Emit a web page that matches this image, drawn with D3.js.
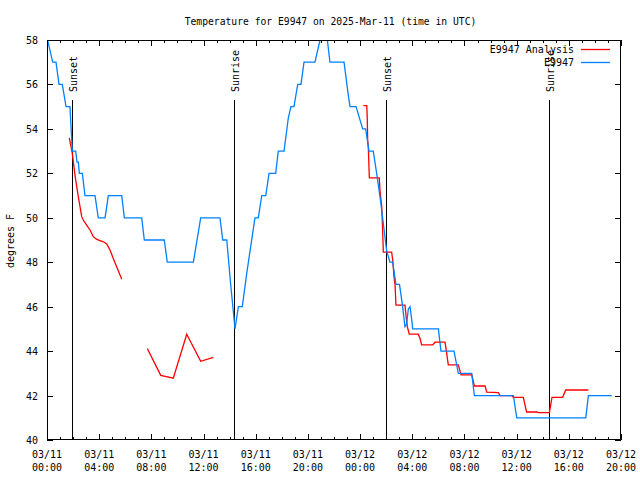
<!DOCTYPE html>
<html><head><meta charset="utf-8">
<script src="https://cdn.jsdelivr.net/npm/d3@7/dist/d3.min.js"></script>
<style>
body{margin:0;background:#fff}
text{font-family:"DejaVu Sans Mono","Liberation Mono",monospace;font-size:10px;fill:#000}
</style>
</head><body>
<svg id="chart" width="640" height="480"></svg>
<script>
// ---------- data ----------
const chartTitle = "Temperature for E9947 on 2025-Mar-11 (time in UTC)";
const yLabel = "degrees F";
const startTime = "2025-03-11T00:00:00Z";
const spanHours = 44;
const yTicks = [40, 42, 44, 46, 48, 50, 52, 54, 56, 58];

// Observed series "E9947" (hours since 03/11 00:00 UTC, degrees F)
const obsHours = [0.04,0.44,0.69,0.92,1.17,1.46,1.76,1.94,2.20,2.30,2.40,2.48,2.71,2.91,3.68,3.93,4.45,4.70,5.73,5.93,7.26,7.46,8.99,9.22,11.22,11.78,13.26,13.47,13.78,14.08,14.33,14.41,14.67,14.97,15.31,15.74,15.94,16.20,16.46,16.77,17.02,17.53,17.73,18.17,18.50,18.70,18.93,19.22,19.47,19.70,20.54,20.93,21.20,21.49,21.69,22.77,23.10,23.23,23.69,24.20,24.43,24.68,25.01,25.27,25.58,26.04,26.29,26.50,26.75,27.02,27.24,27.44,27.56,27.70,27.83,27.96,28.03,30.00,30.20,31.20,31.53,32.56,32.76,35.75,36.01,41.30,41.50,43.29];
const obsValues = [58,57,57,56,56,55,55,53,53,52.5,52.5,52,52,51,51,50,50,51,51,50,50,49,49,48,48,50,50,49,49,47,45.5,45,46,46,47.5,49.2,50,50,51,51,52,52,53,53,54.5,55,55,56,56,57,57,58,58.4,58,57,57,55.5,55,55,54,54,53,53,52,50.7,48.5,48,48,47,47,46.1,45.1,45.2,45.9,46,45.4,45,45,44,44,43,43,42,42,41,41,42,42];

// Analysis series "E9947 Analysis" (null = no data)
const anaHours = [1.71,1.94,2.15,2.28,2.40,2.53,2.66,2.78,3.04,3.30,3.55,3.81,4.32,4.58,4.83,5.08,5.34,5.73,6.70,
  7.69,8.72,9.68,10.71,11.78,12.75,13.50,
  24.25,24.51,24.55,24.58,24.63,24.68,24.71,25.47,25.53,25.66,25.70,25.76,25.78,26.42,26.50,26.60,26.68,26.75,27.44,27.52,27.62,27.77,28.46,28.59,28.72,29.57,29.74,30.51,30.59,30.76,31.53,31.74,32.56,32.76,33.58,33.71,34.60,34.73,35.62,35.75,36.51,36.76,37.59,37.66,38.51,38.71,39.53,39.76,41.50];
const anaValues = [53.6,52.9,51.9,51.4,50.95,50.5,50.05,49.9,49.67,49.45,49.15,49.03,48.92,48.82,48.55,48.17,47.8,47.23,null,
  44.12,42.91,42.78,44.76,43.54,43.72,null,
  55.05,55.05,54.47,53.5,53.2,52.3,51.8,51.8,51.2,50.5,49.9,48.85,48.45,48.45,48.1,47.35,46.97,46.07,46.07,45.6,45.1,44.76,44.76,44.58,44.28,44.28,44.4,44.4,44.1,43.38,43.38,42.93,42.93,42.43,42.43,42.15,42.13,42.0,42.0,41.92,41.92,41.26,41.26,41.23,41.23,41.92,41.92,42.25,42.25];

const eventHours = [1.94, 14.36, 26.01, 38.46];
const eventLabels = ["Sunset", "Sunrise", "Sunset", "Sunrise"];

const seriesNames = ["E9947 Analysis", "E9947"];
const seriesColors = ["#ff0000", "#0080ff"];

// ---------- drawing ----------
const svg = d3.select("#chart");
const W = 640, H = 480;
const m = {left: 47, right: 621, top: 40, bottom: 440};
svg.append("rect").attr("width", W).attr("height", H).attr("fill", "#fff");

const t0 = new Date(startTime).getTime();
const toDate = h => new Date(t0 + h * 3600e3);

const x = d3.scaleUtc().domain([toDate(0), toDate(spanHours)]).range([m.left, m.right]);
const y = d3.scaleLinear().domain([40, 58]).range([m.bottom, m.top]);

svg.append("defs").append("clipPath").attr("id", "clip")
  .append("rect").attr("x", m.left).attr("y", m.top)
  .attr("width", m.right - m.left).attr("height", m.bottom - m.top);

// title
svg.append("text").attr("x", 330.5).attr("y", 25).attr("text-anchor", "middle")
  .style("font-size", "9.7px").text(chartTitle);

// y label
svg.append("text").attr("transform", "translate(14,241) rotate(-90)")
  .attr("text-anchor", "middle").text(yLabel);

// ticks
const majorTicks = x.ticks(d3.utcHour.every(4));
const minorTicks = x.ticks(d3.utcHour.every(1));
const tickG = svg.append("g").attr("stroke", "#000").attr("stroke-width", 1).attr("shape-rendering", "crispEdges");
minorTicks.forEach(d => {
  const px = Math.round(x(d)) + 0.5;
  const isMajor = d.getUTCHours() % 4 === 0;
  const len = isMajor ? 6 : 3;
  tickG.append("line").attr("x1", px).attr("x2", px).attr("y1", m.bottom).attr("y2", m.bottom - len);
  tickG.append("line").attr("x1", px).attr("x2", px).attr("y1", m.top).attr("y2", m.top + len);
});
yTicks.forEach(v => {
  const py = Math.round(y(v)) + 0.5;
  tickG.append("line").attr("x1", m.left).attr("x2", m.left + 6).attr("y1", py).attr("y2", py);
  tickG.append("line").attr("x1", m.right).attr("x2", m.right - 6).attr("y1", py).attr("y2", py);
});

// tick labels
const fDate = d3.utcFormat("%m/%d"), fTime = d3.utcFormat("%H:%M");
majorTicks.forEach(d => {
  const t = svg.append("text").attr("text-anchor", "middle");
  t.append("tspan").attr("x", x(d)).attr("y", 458).text(fDate(d));
  t.append("tspan").attr("x", x(d)).attr("y", 471).text(fTime(d));
});
yTicks.forEach(v => {
  svg.append("text").attr("x", 38).attr("y", y(v) + 4).attr("text-anchor", "end").text(v);
});

// sun events
const evG = svg.append("g");
eventHours.forEach((h, i) => {
  const px = Math.round(x(toDate(h))) + 0.5;
  evG.append("line").attr("x1", px).attr("x2", px).attr("y1", 100).attr("y2", m.bottom)
    .attr("stroke", "#000").attr("stroke-width", 1).attr("shape-rendering", "crispEdges");
  evG.append("text").attr("transform", `translate(${px + 4},92) rotate(-90)`).text(eventLabels[i]);
});

// series
const line = d3.line().defined(d => d[1] != null).x(d => x(toDate(d[0]))).y(d => y(d[1]));
const plotG = svg.append("g").attr("clip-path", "url(#clip)");
const obs = obsHours.map((h, i) => [h, obsValues[i]]);
const ana = anaHours.map((h, i) => [h, anaValues[i]]);
plotG.append("path").datum(ana).attr("d", line).attr("fill", "none")
  .attr("stroke", seriesColors[0]).attr("stroke-width", 1.3);
plotG.append("path").datum(obs).attr("d", line).attr("fill", "none")
  .attr("stroke", seriesColors[1]).attr("stroke-width", 1.3);

// border
svg.append("rect").attr("x", m.left + 0.5).attr("y", m.top + 0.5)
  .attr("width", m.right - m.left - 1).attr("height", m.bottom - m.top - 1)
  .attr("fill", "none").attr("stroke", "#000").attr("shape-rendering", "crispEdges");

// legend
seriesNames.forEach((n, i) => {
  const ly = 49 + i * 13;
  svg.append("text").attr("x", 574).attr("y", ly + 4).attr("text-anchor", "end").text(n);
  svg.append("line").attr("x1", 581).attr("x2", 610).attr("y1", ly + 0.5).attr("y2", ly + 0.5)
    .attr("stroke", seriesColors[i]).attr("stroke-width", 1.3);
});
</script>
</body></html>
